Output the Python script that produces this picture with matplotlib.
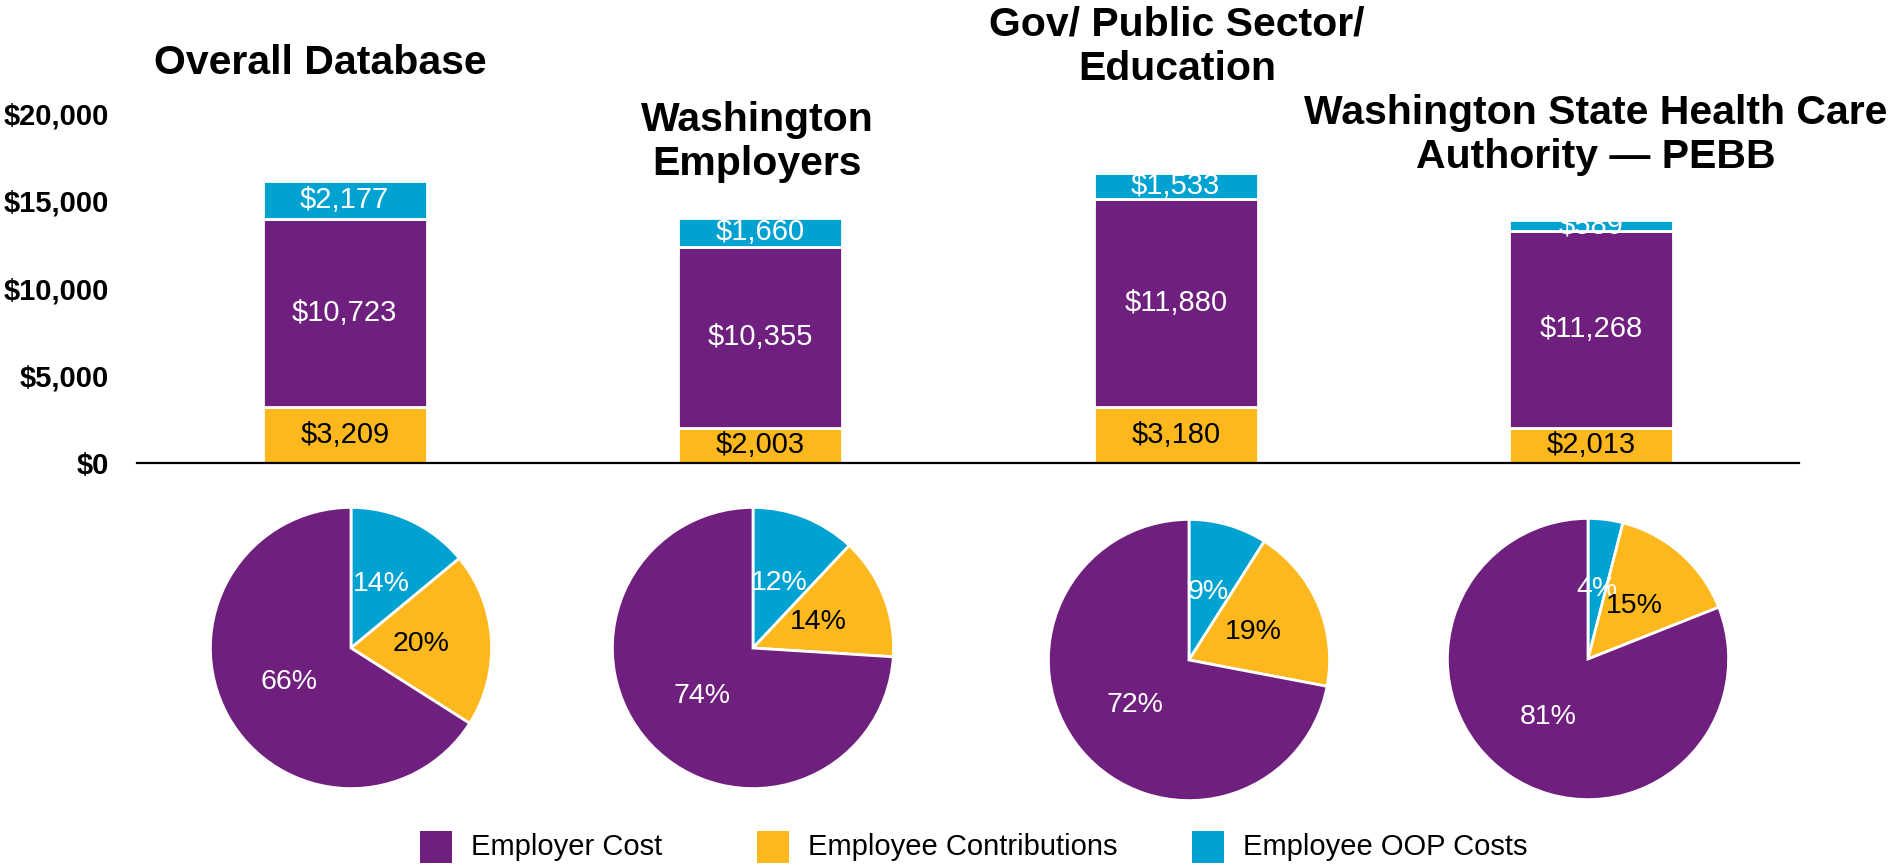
#!/usr/bin/env python3
"""Stacked cost bars with matching share pies for four employer groups."""

import matplotlib
matplotlib.use("Agg")
import matplotlib.pyplot as plt
from matplotlib.patches import Rectangle
from matplotlib.ticker import FuncFormatter

GROUPS = [
    "Overall Database",
    "Washington\nEmployers",
    "Gov/ Public Sector/\nEducation",
    "Washington State Health Care\nAuthority \u2014 PEBB",
]
EMPLOYEE_CONTRIBUTIONS = [3209, 2003, 3180, 2013]
EMPLOYER_COST = [10723, 10355, 11880, 11268]
EMPLOYEE_OOP = [2177, 1660, 1533, 589]

# pie shares (%), as printed on the slices
PIE_OOP = [14, 12, 9, 4]
PIE_CONTRIB = [20, 14, 19, 15]
PIE_EMPLOYER = [66, 74, 72, 81]

Y_TICKS = [0, 5000, 10000, 15000, 20000]
SERIES_NAMES = ["Employer Cost", "Employee Contributions", "Employee OOP Costs"]

PURPLE = "#6F1F7D"
YELLOW = "#FDB81E"
BLUE = "#00A2D2"

FIG_W, FIG_H = 1896, 867


def px_box(cx, cy, w, h):
    """Figure-fraction rect from a pixel centre and size (y measured from top)."""
    return [(cx - w / 2) / FIG_W, 1 - (cy + h / 2) / FIG_H, w / FIG_W, h / FIG_H]


def main():
    plt.rcParams["font.family"] = ["Liberation Sans", "DejaVu Sans"]
    fig = plt.figure(figsize=(FIG_W / 100, FIG_H / 100), dpi=100)

    # --- stacked bars ---
    ax = fig.add_axes([137 / FIG_W, 1 - 463 / FIG_H, (1799 - 137) / FIG_W, (463 - 113) / FIG_H])
    x = list(range(len(GROUPS)))
    width = 0.395
    bottoms_mid = EMPLOYEE_CONTRIBUTIONS
    bottoms_top = [a + b for a, b in zip(EMPLOYEE_CONTRIBUTIONS, EMPLOYER_COST)]

    ax.bar(x, EMPLOYEE_CONTRIBUTIONS, width, color=YELLOW, edgecolor="white", linewidth=2)
    ax.bar(x, EMPLOYER_COST, width, bottom=bottoms_mid, color=PURPLE, edgecolor="white", linewidth=2)
    ax.bar(x, EMPLOYEE_OOP, width, bottom=bottoms_top, color=BLUE, edgecolor="white", linewidth=2)

    for i in x:
        ax.text(i, EMPLOYEE_CONTRIBUTIONS[i] / 2, f"${EMPLOYEE_CONTRIBUTIONS[i]:,}",
                ha="center", va="center", fontsize=21, color="black")
        ax.text(i, bottoms_mid[i] + EMPLOYER_COST[i] / 2, f"${EMPLOYER_COST[i]:,}",
                ha="center", va="center", fontsize=21, color="white")
        ax.text(i, bottoms_top[i] + EMPLOYEE_OOP[i] / 2, f"${EMPLOYEE_OOP[i]:,}",
                ha="center", va="center", fontsize=21, color="white")

    ax.set_xlim(-0.5, len(GROUPS) - 0.5)
    ax.set_ylim(0, 20000)
    ax.set_yticks(Y_TICKS)
    ax.yaxis.set_major_formatter(FuncFormatter(lambda v, _: f"${int(v):,}"))
    ax.set_xticks([])
    ax.tick_params(axis="y", length=0, pad=20, labelsize=21)
    for label in ax.get_yticklabels():
        label.set_fontweight("bold")
    for side in ("top", "right", "left"):
        ax.spines[side].set_visible(False)
    ax.spines["bottom"].set_linewidth(1.6)
    ax.spines["bottom"].set_color("black")

    # --- group titles ---
    title_pos = [(320, 63), (757, 142), (1177, 47), (1596, 135)]
    for name, (tx, ty) in zip(GROUPS, title_pos):
        fig.text(tx / FIG_W, 1 - ty / FIG_H, name, ha="center", va="center",
                 fontsize=29.5, fontweight="bold", linespacing=1.2)

    # --- pies ---
    pie_centres = [(351, 648), (753, 648), (1189, 660), (1588, 659)]
    radius = 142
    for i, (cx, cy) in enumerate(pie_centres):
        pax = fig.add_axes(px_box(cx, cy, 2 * radius, 2 * radius))
        shares = [PIE_OOP[i], PIE_CONTRIB[i], PIE_EMPLOYER[i]]
        wedges, texts = pax.pie(
            shares,
            colors=[BLUE, YELLOW, PURPLE],
            startangle=90,
            counterclock=False,
            labels=[f"{s}%" for s in shares],
            labeldistance=0.5,
            wedgeprops={"edgecolor": "white", "linewidth": 2},
            textprops={"fontsize": 20.5, "ha": "center", "va": "center"},
        )
        for t, c in zip(texts, ["white", "black", "white"]):
            t.set_color(c)
            t.set_horizontalalignment("center")
        pax.set_xlim(-1.01, 1.01)
        pax.set_ylim(-1.01, 1.01)
        pax.set_aspect("equal")

    # --- legend (manual, PowerPoint-style uneven spacing) ---
    legend_x = [420, 757, 1192]
    square = 32
    legend_y = 847
    for name, color, lx in zip(SERIES_NAMES, [PURPLE, YELLOW, BLUE], legend_x):
        fig.add_artist(Rectangle((lx / FIG_W, 1 - (legend_y + square / 2) / FIG_H),
                                 square / FIG_W, square / FIG_H,
                                 transform=fig.transFigure, facecolor=color, edgecolor="none"))
        fig.text((lx + square + 19) / FIG_W, 1 - legend_y / FIG_H, name,
                 ha="left", va="center", fontsize=21)

    fig.savefig("out.png", dpi=100)


if __name__ == "__main__":
    main()
